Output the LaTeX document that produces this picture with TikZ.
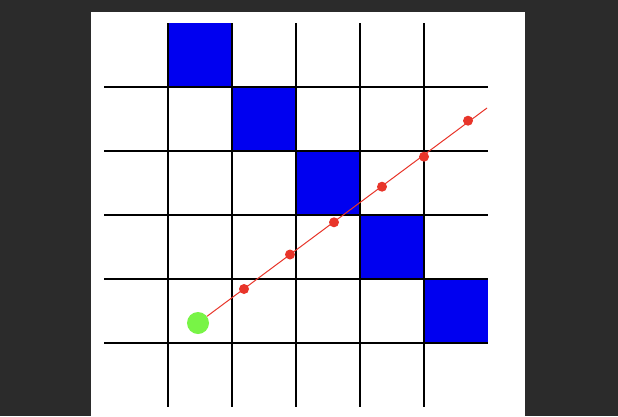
\documentclass[tikz,border=0pt]{standalone}
\definecolor{bgdark}{RGB}{43,43,43}
\definecolor{cellblue}{RGB}{0,0,240}
\definecolor{rayred}{RGB}{232,53,42}
\definecolor{origingreen}{RGB}{120,244,70}
\begin{document}
\begin{tikzpicture}[x=1pt,y=-1pt,
  gridline/.style={black,line width=2pt},
  bluecell/.style={fill=cellblue},
  ray/.style={draw=rayred,line width=1pt},
  sample/.style={circle,inner sep=0pt,minimum size=10pt,fill=rayred},
  origin/.style={circle,inner sep=0pt,minimum size=22pt,fill=origingreen}]
\useasboundingbox (0,0) rectangle (618,416);
\fill[bgdark] (0,0) rectangle (618,416);
\fill[white] (91,12) rectangle (525,416);
% blue cells
\foreach \i in {0,...,4}{
  \fill[bluecell] ({168+64*\i},{23+64*\i}) rectangle ({232+64*\i},{87+64*\i});
}
% grid
\foreach \k in {0,...,4}{
  \draw[gridline] (104,{87+64*\k}) -- (488,{87+64*\k});
  \draw[gridline] ({168+64*\k},23) -- ({168+64*\k},407);
}
% ray
\node[origin] (g) at (198,323) {};
\coordinate (e) at (487,108);
\draw[ray] (g) -- (e);
\node[sample] (s1) at (244,289) {};
\node[sample] (s2) at (290,254.5) {};
\node[sample] (s3) at (334,222.3) {};
\node[sample] (s4) at (382,186.7) {};
\node[sample] (s5) at (424,156.7) {};
\node[sample] (s6) at (468,120.7) {};
\end{tikzpicture}
\end{document}
